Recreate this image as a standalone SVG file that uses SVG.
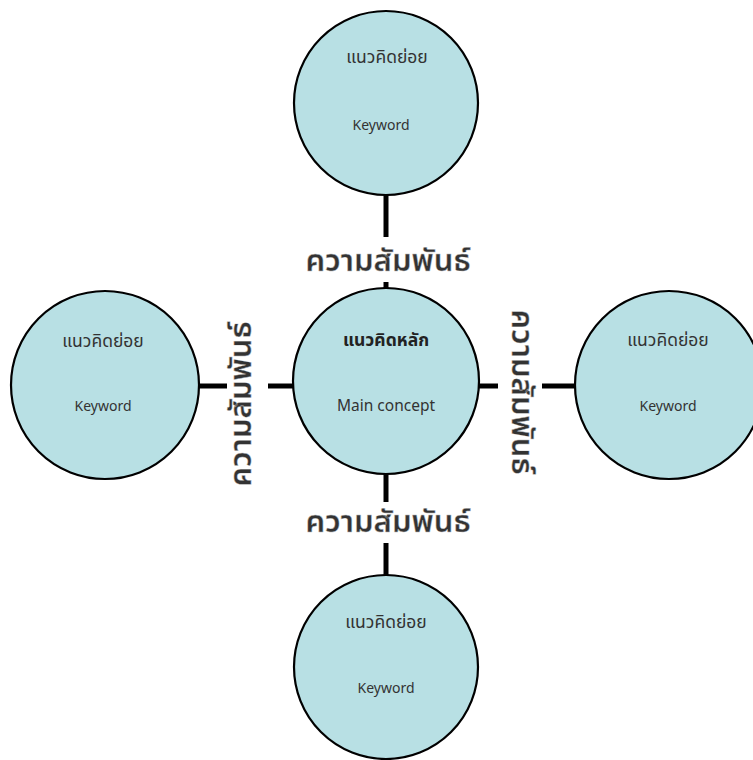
<svg xmlns="http://www.w3.org/2000/svg" width="753" height="760" viewBox="0 0 753 760">
<style>
.node{fill:#b8e0e4;stroke:#000;stroke-width:2.2}
.t{font-family:"Noto Sans Thai","Noto Sans","Open Sans",sans-serif;font-size:14px;fill:#333;text-anchor:middle}
.th{font-size:17.5px}
.tb{font-weight:bold;fill:#222}
.conn{stroke:#000;stroke-width:5;fill:none}
.lbl{font-family:"Noto Sans Thai","Noto Sans",sans-serif;font-size:31px;font-weight:600;fill:#333;text-anchor:middle;dominant-baseline:central;stroke:#bbb;stroke-width:0.4}
</style>
<rect width="753" height="760" fill="#fff"/>
<g id="connectors">
<line class="conn" x1="386" y1="192" x2="386" y2="237"/>
<line class="conn" x1="386" y1="282" x2="386" y2="290"/>
<line class="conn" x1="386" y1="472" x2="386" y2="502"/>
<line class="conn" x1="386" y1="543" x2="386" y2="577"/>
<line class="conn" x1="198" y1="386" x2="227" y2="386"/>
<line class="conn" x1="268" y1="386" x2="294" y2="386"/>
<line class="conn" x1="478" y1="386" x2="498" y2="386"/>
<line class="conn" x1="542" y1="386" x2="577" y2="386"/>
<text class="lbl" x="388" y="261">ความสัมพันธ์</text>
<text class="lbl" x="388" y="522">ความสัมพันธ์</text>
<text class="lbl" transform="translate(241 404) rotate(-90)">ความสัมพันธ์</text>
<text class="lbl" transform="translate(521 392) rotate(90)">ความสัมพันธ์</text>
</g>
<g id="node-center">
<circle class="node" cx="386" cy="381" r="93"/>
<text class="t th tb" x="386" y="346">แนวคิดหลัก</text>
<text class="t" x="386" y="411" style="font-size:15.5px">Main concept</text>
</g>
<g id="node-top">
<circle class="node" cx="386" cy="103" r="92"/>
<text class="t th" x="387" y="63">แนวคิดย่อย</text>
<text class="t" x="381" y="130">Keyword</text>
</g>
<g id="node-left">
<circle class="node" cx="105" cy="385" r="94"/>
<text class="t th" x="103" y="347">แนวคิดย่อย</text>
<text class="t" x="103" y="411">Keyword</text>
</g>
<g id="node-right">
<circle class="node" cx="669" cy="385" r="94"/>
<text class="t th" x="668" y="346">แนวคิดย่อย</text>
<text class="t" x="668" y="411">Keyword</text>
</g>
<g id="node-bottom">
<circle class="node" cx="386" cy="667" r="92"/>
<text class="t th" x="386" y="628">แนวคิดย่อย</text>
<text class="t" x="386" y="693">Keyword</text>
</g>
</svg>
